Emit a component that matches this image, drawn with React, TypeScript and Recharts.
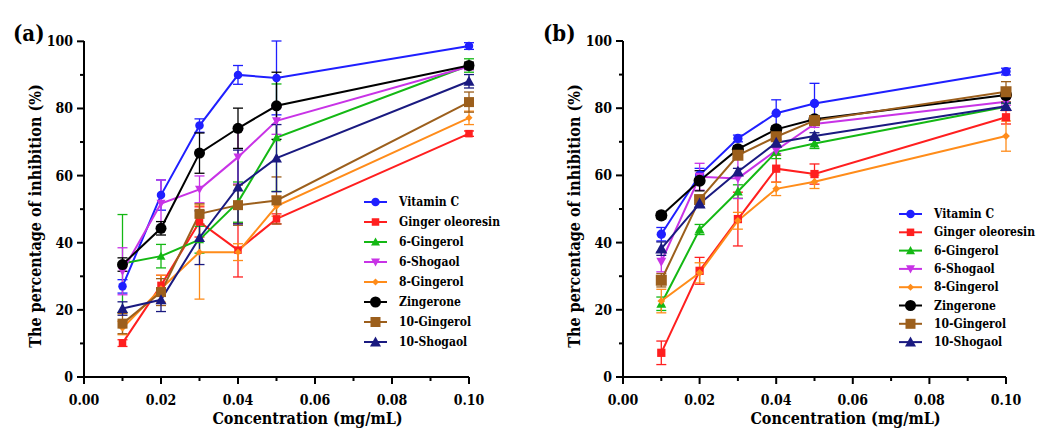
import React from 'react'
import { LineChart, Line, XAxis, YAxis, ErrorBar } from 'recharts'

const concentration = [0.01, 0.02, 0.03, 0.04, 0.05, 0.1]
const seriesNames = [
  'Vitamin C',
  'Ginger oleoresin',
  '6-Gingerol',
  '6-Shogaol',
  '8-Gingerol',
  'Zingerone',
  '10-Gingerol',
  '10-Shogaol',
]
const xTicks = [0, 0.01, 0.02, 0.03, 0.04, 0.05, 0.06, 0.07, 0.08, 0.09, 0.1]
const yTicks = [0, 10, 20, 30, 40, 50, 60, 70, 80, 90, 100]

// panel (a) means
const vitaminCA = [27.0, 54.2, 74.9, 90.0, 89.1, 98.6]
const gingerOleoresinA = [10.1, 27.3, 46.2, 37.8, 47.1, 72.5]
const gingerol6A = [33.8, 36.0, 40.9, 52.1, 71.3, 92.8]
const shogaol6A = [31.5, 51.7, 55.9, 65.5, 76.3, 92.5]
const gingerol8A = [14.6, 26.3, 37.2, 37.2, 50.9, 77.2]
const zingeroneA = [33.5, 44.3, 66.7, 74.1, 80.8, 92.8]
const gingerol10A = [15.9, 25.3, 48.6, 51.2, 52.6, 81.9]
const shogaol10A = [20.4, 23.0, 41.5, 56.6, 65.2, 88.1]

// panel (a) error
const vitaminCAErr = [2, 4.5, 2, 2.8, 11, 1]
const gingerOleoresinAErr = [1, 3, 4.5, 8, 1.5, 0.8]
const gingerol6AErr = [14.6, 3.5, 4, 6, 16, 2]
const shogaol6AErr = [7, 7, 4, 8, 4, 1]
const gingerol8AErr = [2, 4, 14, 2.5, 3, 2]
const zingeroneAErr = [2, 2, 6, 6, 10, 1]
const gingerol10AErr = [3, 4, 3, 6, 7, 3]
const shogaol10AErr = [2, 3.5, 8, 11, 10, 2]

// panel (b) means
const vitaminCB = [42.5, 60.1, 71.0, 78.5, 81.4, 90.9]
const gingerOleoresinB = [7.2, 31.6, 47.0, 62.0, 60.4, 77.3]
const gingerol6B = [21.8, 43.9, 55.2, 67.0, 69.5, 80.4]
const shogaol6B = [34.3, 59.6, 59.1, 67.5, 75.3, 81.9]
const gingerol8B = [22.6, 31.0, 46.5, 56.0, 58.1, 71.7]
const zingeroneB = [48.1, 58.4, 67.8, 73.7, 76.7, 83.9]
const gingerol10B = [28.8, 52.8, 66.0, 71.5, 76.3, 84.9]
const shogaol10B = [38.2, 51.6, 61.1, 69.7, 71.7, 80.6]

// panel (b) error
const vitaminCBErr = [2, 2, 1, 4, 6, 1]
const gingerOleoresinBErr = [3.5, 4, 8, 4, 3, 2]
const gingerol6BErr = [2, 1.5, 2, 2, 1.5, 1]
const shogaol6BErr = [3, 4, 6, 1, 1, 1]
const gingerol8BErr = [3.5, 3, 2.5, 2, 2, 4.5]
const zingeroneBErr = [1, 3, 1, 1, 1, 1]
const gingerol10BErr = [2, 1, 1, 1, 1, 3]
const shogaol10BErr = [2, 1, 1, 1, 1, 1]

const colors = ['#1f1fff', '#ff1f1f', '#14b814', '#c833e6', '#ff8c1a', '#000000', '#9c5f1c', '#1a1a80']
const shapes = ['circle', 'square', 'triangle', 'triangleDown', 'diamond', 'circle', 'square', 'triangle']
const sizes = [8.5, 7.5, 9, 9, 7, 11, 10, 11]

const FONT = "'DejaVu Serif Condensed', 'DejaVu Serif', serif"

function buildRows(means: number[][], errs: number[][]) {
  return concentration.map((x, i) => {
    const row: Record<string, number> = { x }
    seriesNames.forEach((n, s) => {
      row[n] = means[s][i]
      row[n + '_err'] = errs[s][i]
    })
    return row
  })
}

function Marker({ shape, cx, cy, size, color }: any) {
  const h = size / 2
  switch (shape) {
    case 'circle':
      return <circle cx={cx} cy={cy} r={h} fill={color} />
    case 'square':
      return <rect x={cx - h} y={cy - h} width={size} height={size} fill={color} />
    case 'triangle':
      return <polygon points={`${cx},${cy - h} ${cx + h},${cy + h * 0.8} ${cx - h},${cy + h * 0.8}`} fill={color} />
    case 'triangleDown':
      return <polygon points={`${cx},${cy + h} ${cx + h},${cy - h * 0.8} ${cx - h},${cy - h * 0.8}`} fill={color} />
    default:
      return <polygon points={`${cx},${cy - h} ${cx + h},${cy} ${cx},${cy + h} ${cx - h},${cy}`} fill={color} />
  }
}

const XTick = ({ x, y, payload }: any) => {
  const major = Math.round(payload.value * 100) % 2 === 0
  return (
    <g>
      <line x1={x} y1={y} x2={x} y2={y + (major ? 7 : 4)} stroke="#000" strokeWidth={2} />
      {major && (
        <text x={x} y={y + 23} textAnchor="middle" dominantBaseline="central" fontFamily={FONT} fontWeight="bold" fontSize={14} fill="#000">
          {payload.value.toFixed(2)}
        </text>
      )}
    </g>
  )
}

const YTick = ({ x, y, payload }: any) => {
  const major = payload.value % 20 === 0
  return (
    <g>
      <line x1={x} y1={y} x2={x - (major ? 7 : 4)} y2={y} stroke="#000" strokeWidth={2} />
      {major && (
        <text x={x - 11} y={y} textAnchor="end" dominantBaseline="central" fontFamily={FONT} fontWeight="bold" fontSize={14} fill="#000">
          {payload.value}
        </text>
      )}
    </g>
  )
}

function Panel({ means, errs, yAxisWidth, right, width, scale }: any) {
  const data = buildRows(means, errs)
  return (
    <LineChart width={width} height={433} data={data} margin={{ top: 41, right, left: 0, bottom: 16 }}>
      <XAxis
        dataKey="x"
        type="number"
        domain={[0, 0.1]}
        ticks={xTicks}
        interval={0}
        tick={<XTick />}
        tickLine={false}
        tickSize={0}
        tickMargin={0}
        height={40}
        axisLine={{ stroke: '#000', strokeWidth: 2 }}
        label={{
          content: ({ viewBox }: any) => (
            <text x={viewBox.x + viewBox.width / 2 + 31} y={viewBox.y + 41} textAnchor="middle" dominantBaseline="central" fontFamily={FONT} fontWeight="bold" fontSize={16} fill="#000">
              Concentration (mg/mL)
            </text>
          ),
        }}
      />
      <YAxis
        type="number"
        domain={[0, 100]}
        ticks={yTicks}
        interval={0}
        tick={<YTick />}
        tickLine={false}
        tickSize={0}
        tickMargin={0}
        width={yAxisWidth}
        axisLine={{ stroke: '#000', strokeWidth: 2 }}
        label={{
          content: ({ viewBox }: any) => {
            const cx = viewBox.x + yAxisWidth - 49
            const cy = viewBox.y + viewBox.height / 2 + 7
            return (
              <text x={cx} y={cy} transform={`rotate(-90 ${cx} ${cy})`} textAnchor="middle" dominantBaseline="central" fontFamily={FONT} fontWeight="bold" fontSize={16} fill="#000">
                The percentage of inhibition (%)
              </text>
            )
          },
        }}
      />
      {seriesNames.map((n, s) => (
        <Line
          key={n}
          type="linear"
          dataKey={n}
          stroke={colors[s]}
          strokeWidth={2}
          activeDot={false}
          isAnimationActive={false}
          dot={(p: any) => (
            <Marker key={`${n}-${p.index}`} shape={shapes[s]} cx={p.cx} cy={p.cy} size={sizes[s] * scale} color={colors[s]} />
          )}
        >
          <ErrorBar dataKey={n + '_err'} width={5} strokeWidth={1.3} stroke={colors[s]} direction="y" />
        </Line>
      ))}
    </LineChart>
  )
}

function LegendBox({ left, top, step, width }: any) {
  return (
    <svg style={{ position: 'absolute', left, top }} width={width} height={12 + step * 8}>
      {seriesNames.map((n, s) => {
        const y = 10 + step * s
        return (
          <g key={n}>
            <line x1={3} x2={26} y1={y} y2={y} stroke={colors[s]} strokeWidth={2} />
            <Marker shape={shapes[s]} cx={14.5} cy={y} size={sizes[s]} color={colors[s]} />
            <text x={38} y={y} dominantBaseline="central" fontFamily={FONT} fontWeight="bold" fontSize={12} fill="#000">
              {n}
            </text>
          </g>
        )
      })}
    </svg>
  )
}

const labelStyle: React.CSSProperties = {
  position: 'absolute',
  top: 19,
  fontFamily: FONT,
  fontWeight: 'bold',
  fontSize: 22,
  lineHeight: '28px',
}

export default function App() {
  const meansA = [vitaminCA, gingerOleoresinA, gingerol6A, shogaol6A, gingerol8A, zingeroneA, gingerol10A, shogaol10A]
  const errsA = [vitaminCAErr, gingerOleoresinAErr, gingerol6AErr, shogaol6AErr, gingerol8AErr, zingeroneAErr, gingerol10AErr, shogaol10AErr]
  const meansB = [vitaminCB, gingerOleoresinB, gingerol6B, shogaol6B, gingerol8B, zingeroneB, gingerol10B, shogaol10B]
  const errsB = [vitaminCBErr, gingerOleoresinBErr, gingerol6BErr, shogaol6BErr, gingerol8BErr, zingeroneBErr, gingerol10BErr, shogaol10BErr]

  return (
    <div style={{ position: 'absolute', left: 0, top: 0, width: 1042, height: 433, background: '#fff', overflow: 'hidden' }}>
      <div style={{ position: 'absolute', left: 0, top: 0 }}>
        <Panel means={meansA} errs={errsA} yAxisWidth={84} right={51} width={520} scale={1} />
      </div>
      <div style={{ position: 'absolute', left: 530, top: 0 }}>
        <Panel means={meansB} errs={errsB} yAxisWidth={93} right={36} width={512} scale={1.1} />
      </div>
      <div style={{ ...labelStyle, left: 13 }}>(a)</div>
      <div style={{ ...labelStyle, left: 543 }}>(b)</div>
      <LegendBox left={361} top={192} step={20} width={170} />
      <LegendBox left={896} top={204} step={18.3} width={146} />
    </div>
  )
}
